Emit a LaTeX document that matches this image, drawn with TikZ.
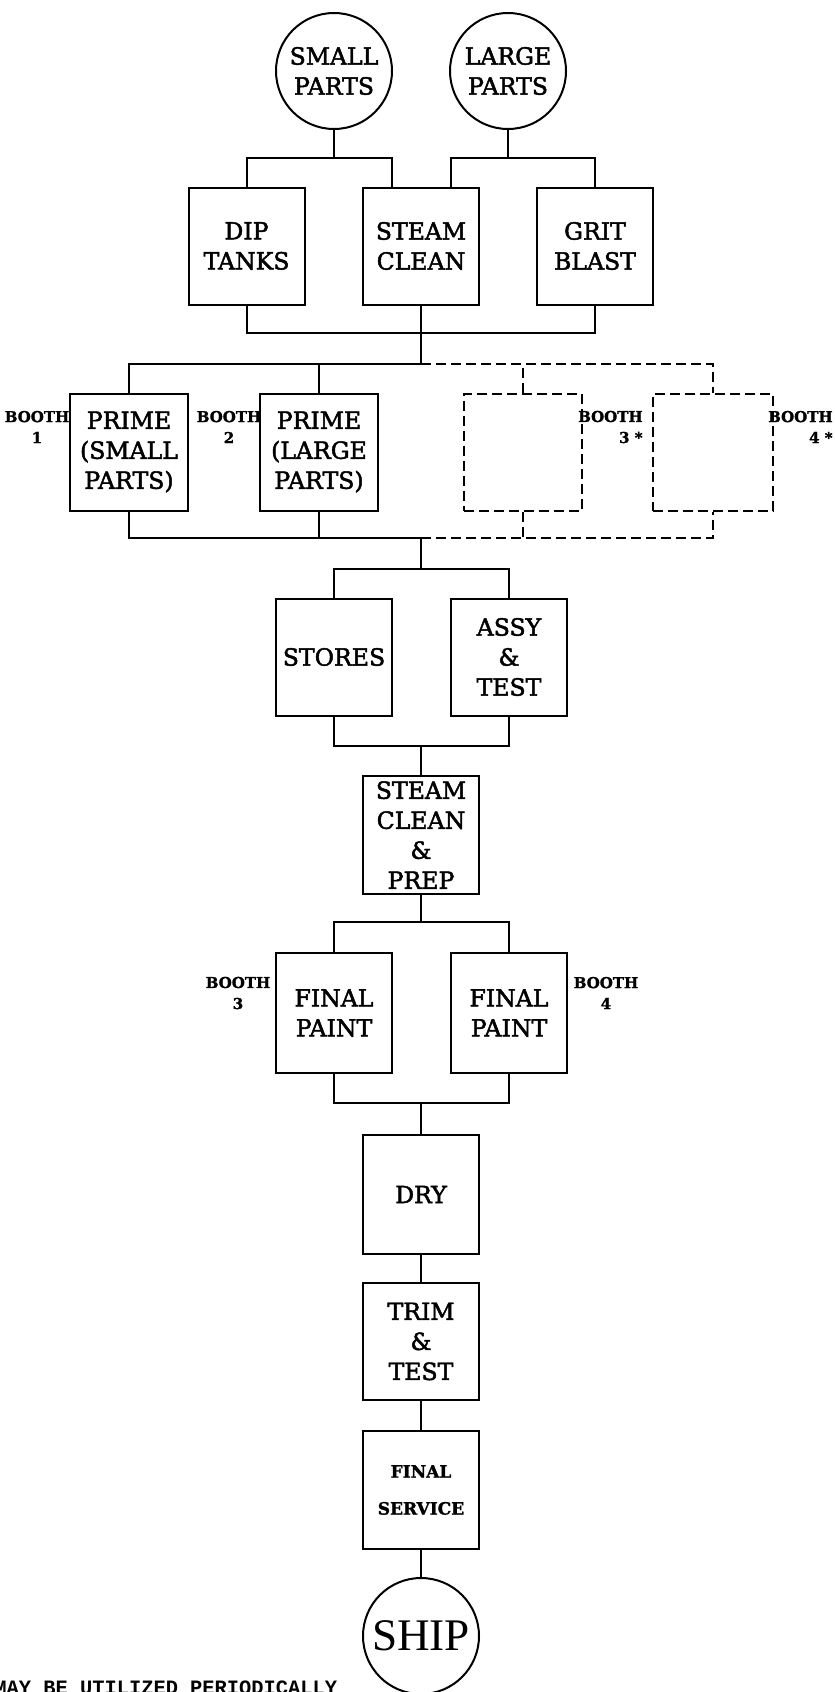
\documentclass[tikz,border=0pt]{standalone}
\usepackage{fontspec}
\setmainfont{DejaVu Serif}[FakeBold=1.5]
\newfontfamily\labelfont{DejaVu Serif}[FakeBold=2]
\newfontfamily\shipfont{Liberation Serif}
\newfontfamily\notefont{Liberation Mono}
\usetikzlibrary{calc}
\tikzset{
  box/.style={draw, line width=1pt, minimum width=58pt, minimum height=58.5pt, inner sep=0pt, align=center, font=\labelfont\fontsize{11.8}{15}\selectfont},
  dbox/.style={box, dash pattern=on 5pt off 2.5pt},
  circ/.style={draw, circle, line width=1pt, minimum size=58pt, inner sep=0pt, align=center, font=\labelfont\fontsize{11.8}{15}\selectfont},
  boothlbl/.style={inner sep=0pt, font=\bfseries\fontsize{7.5}{10.5}\selectfont},
  link/.style={line width=1pt},
  dlink/.style={line width=1pt, dash pattern=on 5pt off 2.5pt},
}
\begin{document}
\begin{tikzpicture}[x=0.5pt,y=-0.5pt]
\useasboundingbox (0,0) rectangle (835,1692);
\clip (0,0) rectangle (835,1692);
\fill[white] (0,0) rectangle (835,1692);

% sources
\node[circ] (small) at (334,71) {SMALL\\PARTS};
\node[circ] (large) at (508,71) {LARGE\\PARTS};

% cleaning row
\node[box] (dip) at (246.5,246) {DIP\\TANKS};
\node[box] (steam) at (421,246) {STEAM\\CLEAN};
\node[box] (grit) at (595,246) {GRIT\\BLAST};

% prime row
\node[box, minimum width=59pt] (prime1) at (129,452) {PRIME\\(SMALL\\PARTS)};
\node[box, minimum width=59pt] (prime2) at (319,452) {PRIME\\(LARGE\\PARTS)};
\node[dbox, minimum width=59pt] (b3) at (523,452) {};
\node[dbox, minimum width=60pt] (b4) at (713,452) {};

\node[boothlbl, align=center] (booth1) at (37,427) {BOOTH\\1};
\node[boothlbl, align=center] (booth2) at (229,427) {BOOTH\\2};
\node[boothlbl, align=right, anchor=east] (booth3) at (643,427) {BOOTH\\3 *};
\node[boothlbl, align=right, anchor=east] (booth4) at (833,427) {BOOTH\\4 *};

% stores / assy
\node[box] (stores) at (334,657) {STORES};
\node[box] (assy) at (509,657) {ASSY\\\&\\TEST};

% steam clean & prep
\node[box, minimum height=59pt] (scp) at (421,835) {STEAM\\CLEAN\\\&\\PREP};

% final paint
\node[box, minimum height=60pt] (fp1) at (334,1013) {FINAL\\PAINT};
\node[box, minimum height=60pt] (fp2) at (509,1013) {FINAL\\PAINT};
\node[boothlbl, align=center] (booth3b) at (238,993) {BOOTH\\3};
\node[boothlbl, align=center] (booth4b) at (606,993) {BOOTH\\4};

% tail
\node[box, minimum height=59.5pt] (dry) at (421,1194.5) {DRY};
\node[box] (trim) at (421,1341.5) {TRIM\\\&\\TEST};
\node[box, minimum height=59pt, font=\bfseries\fontsize{8.5}{18.5}\selectfont] (fserv) at (421,1490) {FINAL\\SERVICE};
\node[draw, circle, line width=1pt, minimum size=58pt, inner sep=0pt, font=\shipfont\fontsize{22.6}{24}\selectfont] (ship) at (421,1636) {SHIP};

\node[anchor=base west, inner sep=0pt, font=\notefont\bfseries\fontsize{10.2}{12}\selectfont] (note) at (-6,1694) {MAY BE UTILIZED PERIODICALLY};

% junction coordinates
\coordinate (t2) at (392,158);
\coordinate (t3) at (451,158);
\coordinate (m1) at (421,333);
\coordinate (m2) at (421,364);
\coordinate (m3) at (421,538);
\coordinate (m4) at (421,569);
\coordinate (m5) at (421,746);
\coordinate (m6) at (421,922);
\coordinate (m7) at (421,1103);

% connectors top
\draw[link] (small.south) -- (small.south |- t2);
\draw[link] (dip.north) |- (t2) -- (t2 |- steam.north);
\draw[link] (large.south) -- (large.south |- t3);
\draw[link] (t3 |- steam.north) -- (t3) -| (grit.north);
\draw[link] (dip.south) |- (m1) -| (grit.south);
\draw[link] (steam.south) -- (m2);

% prime row
\draw[link] (prime1.north) |- (m2);
\draw[link] (prime2.north) -- (prime2.north |- m2);
\draw[dlink] (m2) -| (b4.north);
\draw[dlink] (b3.north) -- (b3.north |- m2);
\draw[link] (prime1.south) |- (m3);
\draw[link] (prime2.south) -- (prime2.south |- m3);
\draw[dlink] (m3) -| (b4.south);
\draw[dlink] (b3.south) -- (b3.south |- m3);

% stores / assy
\draw[link] (m3) -- (m4);
\draw[link] (stores.north) |- (m4) -| (assy.north);
\draw[link] (stores.south) |- (m5) -| (assy.south);
\draw[link] (m5) -- (scp.north);

% final paint
\draw[link] (scp.south) -- (m6);
\draw[link] (fp1.north) |- (m6) -| (fp2.north);
\draw[link] (fp1.south) |- (m7) -| (fp2.south);
\draw[link] (m7) -- (dry.north);

% tail
\draw[link] (dry.south) -- (trim.north);
\draw[link] (trim.south) -- (fserv.north);
\draw[link] (fserv.south) -- (ship.north);
\end{tikzpicture}
\end{document}
